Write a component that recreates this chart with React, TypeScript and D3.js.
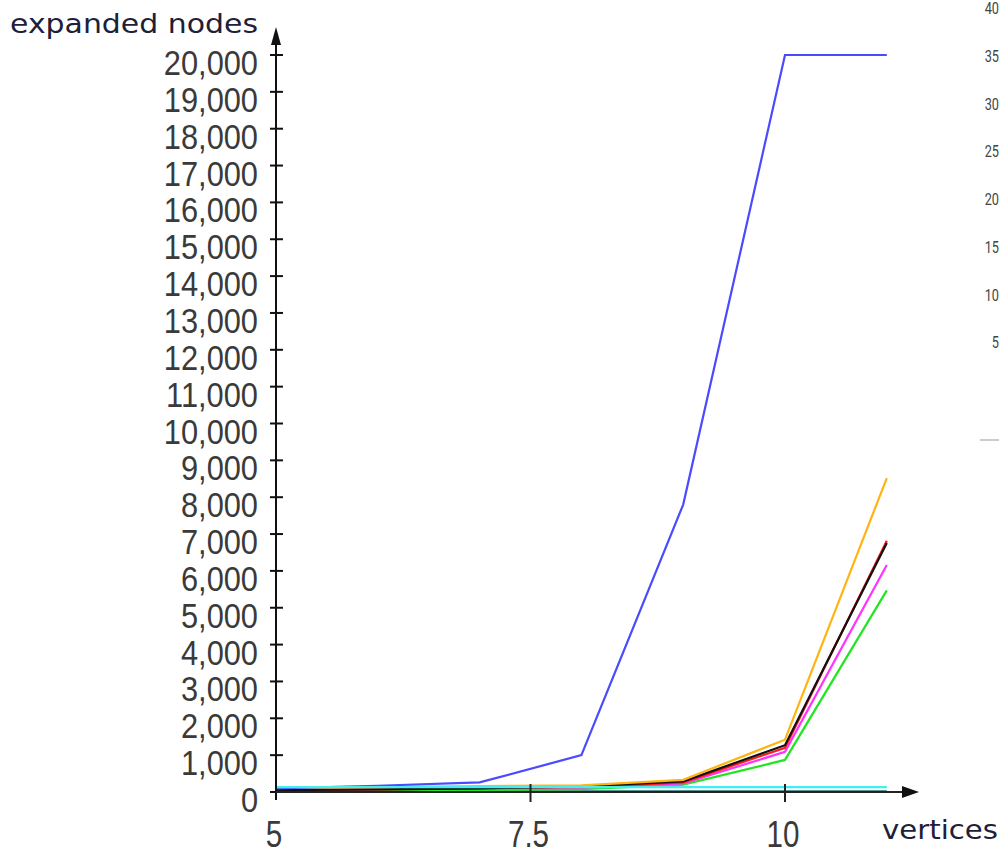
import React, { useEffect, useRef } from 'react';
import * as d3 from 'd3';

// vertex counts on the x axis
const vertices = [5, 6, 7, 8, 9, 10, 11];

// expanded nodes per algorithm
const blueSeries = [100, 170, 260, 1000, 7800, 20000, 20000];
const orangeSeries = [110, 130, 160, 180, 330, 1420, 8520];
const blackSeries = [50, 70, 100, 150, 290, 1270, 6760];
const redSeries = [50, 70, 100, 130, 260, 1200, 6820];
const magentaSeries = [60, 80, 110, 120, 230, 1090, 6160];
const greenSeries = [20, 40, 60, 80, 200, 870, 5470];
const cyanSeries = [130, 130, 130, 130, 130, 130, 130];
const tealSeries = [15, 15, 15, 15, 15, 15, 15];

const yTicks = d3.range(0, 20001, 1000);
const xTicks = [5, 7.5, 10];

// tick labels of the neighbouring chart, cut by the right edge
const sideTicks = [5000, 10000, 15000, 20000, 25000, 30000, 35000, 40000];

const series = [
  { name: 'teal', color: '#1f6f6a', values: tealSeries },
  { name: 'green', color: '#22e522', values: greenSeries },
  { name: 'magenta', color: '#ff33ff', values: magentaSeries },
  { name: 'red', color: '#ff1a1a', values: redSeries },
  { name: 'black', color: '#111111', values: blackSeries },
  { name: 'orange', color: '#ffb414', values: orangeSeries },
  { name: 'blue', color: '#4a4aff', values: blueSeries },
  { name: 'cyan', color: '#44eeee', values: cyanSeries },
];

const App = () => {
  const ref = useRef<SVGSVGElement>(null);

  useEffect(() => {
    document.body.style.margin = '0';
    const svg = d3.select(ref.current);
    svg.selectAll('*').remove();

    const x = d3.scaleLinear().domain([5, 10]).range([276, 785]);
    const y = d3.scaleLinear().domain([0, 20000]).range([792, 55]);
    const tickFont = '"Liberation Sans", Arial, sans-serif';

    // lines
    const line = d3
      .line<number>()
      .x((_, i) => x(vertices[i]))
      .y((d) => y(d));

    svg
      .selectAll('path.series')
      .data(series)
      .enter()
      .append('path')
      .attr('class', 'series')
      .attr('d', (d) => line(d.values))
      .attr('fill', 'none')
      .attr('stroke', (d) => d.color)
      .attr('stroke-width', 2.2);

    // y axis
    svg
      .append('line')
      .attr('x1', 276)
      .attr('x2', 276)
      .attr('y1', 800)
      .attr('y2', 36)
      .attr('stroke', '#111')
      .attr('stroke-width', 2);
    svg.append('path').attr('d', 'M276,27 L271,45 L281,45 Z').attr('fill', '#111');

    svg
      .selectAll('line.ytick')
      .data(yTicks)
      .enter()
      .append('line')
      .attr('class', 'ytick')
      .attr('x1', 270)
      .attr('x2', 283)
      .attr('y1', (d) => y(d))
      .attr('y2', (d) => y(d))
      .attr('stroke', '#111')
      .attr('stroke-width', 2);

    svg
      .selectAll('text.ylab')
      .data(yTicks)
      .enter()
      .append('text')
      .attr('class', 'ylab')
      .attr('transform', (d) => `translate(258,${y(d) + 20}) scale(0.88,1)`)
      .attr('text-anchor', 'end')
      .style('font-family', tickFont)
      .style('font-size', '35px')
      .style('fill', '#3a3a3a')
      .text((d) => d3.format(',')(d));

    // x axis
    svg
      .append('line')
      .attr('x1', 276)
      .attr('x2', 908)
      .attr('y1', 792)
      .attr('y2', 792)
      .attr('stroke', '#222')
      .attr('stroke-width', 2);
    svg.append('path').attr('d', 'M919,792 L902,786 L902,798 Z').attr('fill', '#111');

    svg
      .selectAll('line.xtick')
      .data(xTicks.filter((d) => d !== 5))
      .enter()
      .append('line')
      .attr('class', 'xtick')
      .attr('x1', (d) => x(d))
      .attr('x2', (d) => x(d))
      .attr('y1', 784)
      .attr('y2', 802)
      .attr('stroke', '#222')
      .attr('stroke-width', 2);

    svg
      .selectAll('text.xlab')
      .data(xTicks)
      .enter()
      .append('text')
      .attr('class', 'xlab')
      .attr('transform', (d) => `translate(${x(d) - 2},847) scale(0.8,1)`)
      .attr('text-anchor', 'middle')
      .style('font-family', tickFont)
      .style('font-size', '37px')
      .style('fill', '#3a3a3a')
      .text((d) => String(d));

    // axis titles
    svg
      .append('text')
      .attr('x', 10)
      .attr('y', 33)
      .attr('textLength', 248)
      .attr('lengthAdjust', 'spacingAndGlyphs')
      .style('font-family', '"DejaVu Sans", sans-serif')
      .style('font-size', '27px')
      .style('fill', '#1c2038')
      .text('expanded nodes');

    svg
      .append('text')
      .attr('x', 882)
      .attr('y', 839)
      .attr('textLength', 116)
      .attr('lengthAdjust', 'spacingAndGlyphs')
      .style('font-family', '"DejaVu Sans", sans-serif')
      .style('font-size', '27px')
      .style('fill', '#1c2038')
      .text('vertices');

    // neighbouring chart, mostly off the right edge
    const ySide = d3.scaleLinear().domain([0, 40000]).range([390, 8]);
    svg
      .selectAll('text.side')
      .data(sideTicks)
      .enter()
      .append('text')
      .attr('class', 'side')
      .attr('transform', (d) => `translate(1023,${ySide(d) + 6}) scale(0.75,1)`)
      .attr('text-anchor', 'end')
      .style('font-family', 'Roboto, sans-serif')
      .style('font-size', '17px')
      .style('fill', '#444')
      .text((d) => d3.format(',')(d));
    svg
      .append('line')
      .attr('x1', 980)
      .attr('x2', 999)
      .attr('y1', 440)
      .attr('y2', 440)
      .attr('stroke', '#bbb')
      .attr('stroke-width', 1.5);
  }, []);

  return <svg ref={ref} width={999} height={853} style={{ display: 'block', background: '#fff' }} />;
};

export default App;
